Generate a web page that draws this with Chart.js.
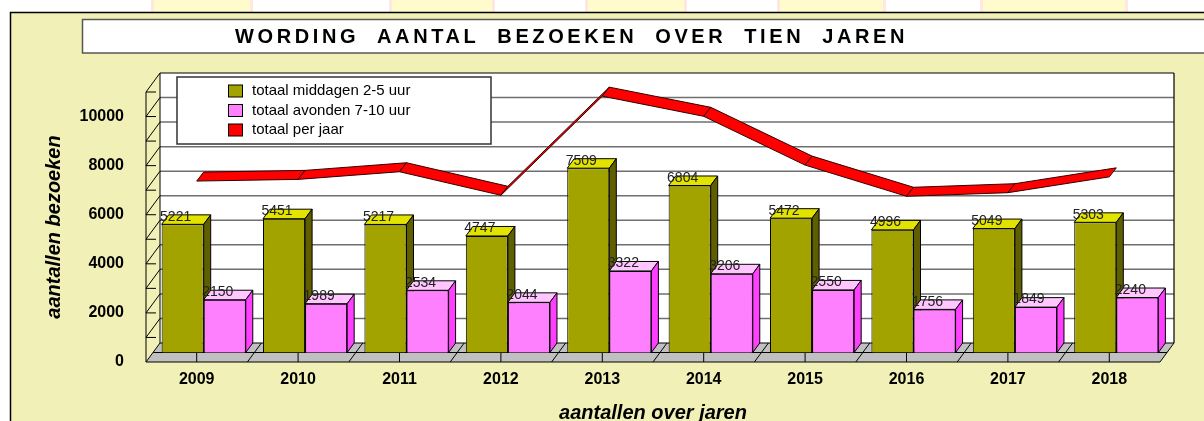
<!DOCTYPE html>
<html>
<head>
<meta charset="utf-8">
<script src="https://cdn.jsdelivr.net/npm/chart.js@4.4.1/dist/chart.umd.min.js"></script>
<style>
  html, body { margin: 0; padding: 0; background: #fff; }
  #wrap { width: 1204px; height: 421px; }
</style>
</head>
<body>
<div id="wrap"><canvas id="bezoekenChart" width="1204" height="421"></canvas></div>
<script>
// --- gegevens ---
const jaren = ['2009', '2010', '2011', '2012', '2013', '2014', '2015', '2016', '2017', '2018'];
const middagen = [5221, 5451, 5217, 4747, 7509, 6804, 5472, 4996, 5049, 5303];
const avonden = [2150, 1989, 2534, 2044, 3322, 3206, 2550, 1756, 1849, 2240];
const perJaar = [7371, 7440, 7751, 6791, 10831, 10010, 8022, 6752, 6898, 7543];
const yLabels = [0, 2000, 4000, 6000, 8000, 10000];
const rasterWaarden = [1000, 2000, 3000, 4000, 5000, 6000, 7000, 8000, 9000, 10000, 11000];

const FONT = 'Liberation Sans, Arial, sans-serif';
const DIEPTE = { x: 14, y: -19 };   // diepte van vloer en wanden
const BALK = { x: 7, y: -9.5 };     // diepte van de balken
const LINT = { x: 7, y: -9 };       // diepte van de lijn

const kleuren = {
    middagen: { voor: '#a3a300', boven: '#e3e300', zij: '#5f5f00' },
    avonden: { voor: '#ff80ff', boven: '#ffc6ff', zij: '#ff3fff' },
    perJaar: '#ff0000'
};

function vlak(ctx, punten, kleur) {
    ctx.beginPath();
    ctx.moveTo(punten[0][0], punten[0][1]);
    punten.slice(1).forEach(p => ctx.lineTo(p[0], p[1]));
    ctx.closePath();
    ctx.fillStyle = kleur;
    ctx.fill();
    ctx.stroke();
}

function lijn(ctx, x1, y1, x2, y2) {
    ctx.beginPath();
    ctx.moveTo(x1, y1);
    ctx.lineTo(x2, y2);
    ctx.stroke();
}

// boven- en zijkant van een balk
function blok(ctx, el, kleur) {
    const { x, y, base, width } = el.getProps(['x', 'y', 'base', 'width'], true);
    const l = x - width / 2, r = x + width / 2;
    vlak(ctx, [[l, y], [r, y], [r + BALK.x, y + BALK.y], [l + BALK.x, y + BALK.y]], kleur.boven);
    vlak(ctx, [[r, y], [r + BALK.x, y + BALK.y], [r + BALK.x, base + BALK.y], [r, base]], kleur.zij);
}

// --- achtergrond en titel ---
const achtergrond = {
    id: 'achtergrond',
    beforeDraw(chart) {
        const ctx = chart.ctx;
        const W = chart.width, H = chart.height;
        ctx.save();
        ctx.fillStyle = '#fff';
        ctx.fillRect(0, 0, W, H);
        // strook van de webpagina boven de grafiek
        [[154, 96], [392, 100], [588, 96], [780, 103], [983, 142]].forEach(([x, w]) => {
            ctx.fillStyle = '#fde9df';
            ctx.fillRect(x - 3, 0, w + 6, 12);
            ctx.fillStyle = '#fffbcd';
            ctx.fillRect(x, 0, w, 12);
        });
        ctx.fillStyle = '#f1f0b6';
        ctx.fillRect(10, 12, W - 10, H - 12);
        ctx.strokeStyle = '#000';
        ctx.lineWidth = 1.5;
        ctx.beginPath();
        ctx.moveTo(10.5, H);
        ctx.lineTo(10.5, 12.5);
        ctx.lineTo(W, 12.5);
        ctx.stroke();

        // titelkader
        ctx.fillStyle = '#fff';
        ctx.fillRect(82, 19.5, W, 33.5);
        ctx.strokeStyle = '#555';
        ctx.strokeRect(82.5, 19.5, W, 33.5);
        const titel = 'WORDING AANTAL BEZOEKEN OVER TIEN JAREN';
        ctx.font = 'bold 20px ' + FONT;
        ctx.fillStyle = '#000';
        ctx.textAlign = 'left';
        ctx.textBaseline = 'middle';
        const breedte = ctx.measureText(titel).width;
        if ('letterSpacing' in ctx) {
            const ls = 3.6;
            ctx.letterSpacing = ls + 'px';
            if ('wordSpacing' in ctx) {
                ctx.wordSpacing = Math.max(0, (673 - breedte - 39 * ls) / 5) + 'px';
            }
        }
        ctx.fillText(titel, 235, 37);
        ctx.restore();
    }
};

// --- 3D vloer, wanden en raster ---
const ruimte = {
    id: 'ruimte',
    beforeDatasetsDraw(chart) {
        const ctx = chart.ctx;
        const y = chart.scales.y, x = chart.scales.x;
        const { left, right, bottom } = chart.chartArea;
        const top = y.getPixelForValue(11000);
        ctx.save();
        ctx.lineWidth = 1;
        ctx.strokeStyle = '#000';

        // achterwand
        ctx.fillStyle = '#fff';
        ctx.fillRect(left + DIEPTE.x, top + DIEPTE.y, right - left, bottom - top);
        ctx.lineWidth = 1.5;
        ctx.strokeStyle = '#6f6f6f';
        rasterWaarden.slice(0, -1).forEach(v => {
            const py = y.getPixelForValue(v) + DIEPTE.y;
            lijn(ctx, left + DIEPTE.x, py, right + DIEPTE.x, py);
        });
        ctx.strokeStyle = '#000';
        ctx.lineWidth = 1.2;
        lijn(ctx, left + DIEPTE.x, top + DIEPTE.y, right + DIEPTE.x, top + DIEPTE.y);
        lijn(ctx, right + DIEPTE.x, top + DIEPTE.y, right + DIEPTE.x, bottom + DIEPTE.y);

        // linkerwand
        ctx.lineWidth = 1;
        lijn(ctx, left, top, left, bottom);
        lijn(ctx, left + DIEPTE.x, top + DIEPTE.y, left + DIEPTE.x, bottom + DIEPTE.y);
        rasterWaarden.forEach(v => {
            const py = y.getPixelForValue(v);
            lijn(ctx, left, py, left + DIEPTE.x, py + DIEPTE.y);
            lijn(ctx, left, py, left + 10, py);
        });

        // vloer
        ctx.strokeStyle = '#000';
        vlak(ctx, [[left, bottom], [right, bottom], [right + DIEPTE.x, bottom + DIEPTE.y], [left + DIEPTE.x, bottom + DIEPTE.y]], '#c0c0c0');
        lijn(ctx, left + BALK.x, bottom + BALK.y, right + BALK.x, bottom + BALK.y);
        const stap = (right - left) / jaren.length;
        jaren.forEach((j, i) => {
            const xc = x.getPixelForValue(i);
            lijn(ctx, xc, bottom, xc, bottom + BALK.y);
            if (i > 0) {
                const xb = xc - stap / 2;
                lijn(ctx, xb, bottom, xb + DIEPTE.x, bottom + DIEPTE.y);
            }
        });
        ctx.restore();
    },

    beforeDatasetDraw(chart, args) {
        if (args.meta.type === 'bar') {
            chart.ctx.save();
            chart.ctx.translate(BALK.x, BALK.y);
        }
    },

    afterDatasetDraw(chart, args) {
        const ctx = chart.ctx;
        if (args.meta.type === 'bar') {
            // de middagbalken worden als laatste getekend: daarna de avondbalk ernaast opnieuw,
            // zodat die de zijkant van de middagbalk afdekt
            if (args.index === 0) {
                const avondMeta = chart.getDatasetMeta(1);
                ctx.lineWidth = 1;
                ctx.strokeStyle = '#000';
                args.meta.data.forEach((el, j) => {
                    blok(ctx, el, kleuren.middagen);
                    const av = avondMeta.data[j];
                    av.draw(ctx);
                    ctx.lineWidth = 1;
                    ctx.strokeStyle = '#000';
                    blok(ctx, av, kleuren.avonden);
                });
            }
            ctx.restore();
        } else {
            // lint voor totaal per jaar
            ctx.save();
            ctx.lineWidth = 1;
            ctx.strokeStyle = '#300';
            const p = args.meta.data;
            for (let i = 0; i < p.length - 1; i++) {
                vlak(ctx, [[p[i].x, p[i].y], [p[i + 1].x, p[i + 1].y],
                    [p[i + 1].x + LINT.x, p[i + 1].y + LINT.y], [p[i].x + LINT.x, p[i].y + LINT.y]], kleuren.perJaar);
            }
            ctx.restore();
        }
    },

    afterDatasetsDraw(chart) {
        const ctx = chart.ctx;
        ctx.save();
        // waarden boven de balken
        ctx.font = '14px ' + FONT;
        ctx.fillStyle = '#222';
        ctx.textAlign = 'center';
        ctx.textBaseline = 'middle';
        chart.data.datasets.forEach((ds, i) => {
            if (ds.type === 'line') return;
            chart.getDatasetMeta(i).data.forEach((el, j) => {
                ctx.fillText(String(ds.data[j]), el.x, el.y - 17);
            });
        });

        // legenda
        ctx.fillStyle = '#fff';
        ctx.fillRect(177, 77, 314, 67);
        ctx.strokeStyle = '#333';
        ctx.lineWidth = 1.5;
        ctx.strokeRect(177, 77, 314, 67);
        ctx.font = '15px ' + FONT;
        ctx.textAlign = 'left';
        ctx.lineWidth = 1;
        ctx.strokeStyle = '#000';
        chart.data.datasets.forEach((ds, i) => {
            const ly = 91 + i * 19.5;
            ctx.fillStyle = ds.backgroundColor;
            ctx.fillRect(228.5, ly - 6, 14, 12);
            ctx.strokeRect(228.5, ly - 6, 14, 12);
            ctx.fillStyle = '#000';
            ctx.fillText(ds.label, 252, ly);
        });
        ctx.restore();
    }
};

const ctxBezoeken = document.getElementById('bezoekenChart').getContext('2d');

new Chart(ctxBezoeken, {
    type: 'bar',
    data: {
        labels: jaren,
        datasets: [{
            label: 'totaal middagen 2-5 uur',
            data: middagen,
            backgroundColor: kleuren.middagen.voor,
            borderColor: '#000',
            borderWidth: 1,
            clip: false
        }, {
            label: 'totaal avonden 7-10 uur',
            data: avonden,
            backgroundColor: kleuren.avonden.voor,
            borderColor: '#000',
            borderWidth: 1,
            clip: false
        }, {
            type: 'line',
            label: 'totaal per jaar',
            data: perJaar,
            backgroundColor: kleuren.perJaar,
            borderColor: 'rgba(0,0,0,0)',
            showLine: false,
            pointRadius: 0,
            order: -1,
            clip: false
        }]
    },
    options: {
        responsive: false,
        devicePixelRatio: 1,
        animation: false,
        categoryPercentage: 0.83,
        barPercentage: 1,
        layout: { padding: { left: 10, right: 44, top: 92, bottom: 0 } },
        scales: {
            x: {
                afterFit(scale) { scale.height = 59; },
                grid: { display: false, drawTicks: false },
                border: { display: false },
                ticks: {
                    padding: 8,
                    color: '#000',
                    maxRotation: 0,
                    autoSkip: false,
                    font: { family: FONT, size: 16, weight: 'bold' }
                },
                title: {
                    display: true,
                    text: 'aantallen over jaren',
                    color: '#000',
                    font: { family: FONT, size: 20, weight: 'bold', style: 'italic' },
                    padding: { top: 0, bottom: -4 }
                }
            },
            y: {
                min: 0,
                max: 11000,
                afterFit(scale) { scale.width = 136; },
                afterBuildTicks(scale) { scale.ticks = yLabels.map(v => ({ value: v })); },
                grid: { display: false, drawTicks: false },
                border: { display: false },
                ticks: {
                    padding: 22,
                    color: '#000',
                    callback: v => String(v),
                    font: { family: FONT, size: 16, weight: 'bold' }
                },
                title: {
                    display: true,
                    text: 'aantallen bezoeken',
                    color: '#000',
                    font: { family: FONT, size: 20, weight: 'bold', style: 'italic' },
                    padding: { top: 32, bottom: 0 }
                }
            }
        },
        plugins: {
            legend: { display: false },
            tooltip: { enabled: false }
        }
    },
    plugins: [achtergrond, ruimte]
});
</script>
</body>
</html>
